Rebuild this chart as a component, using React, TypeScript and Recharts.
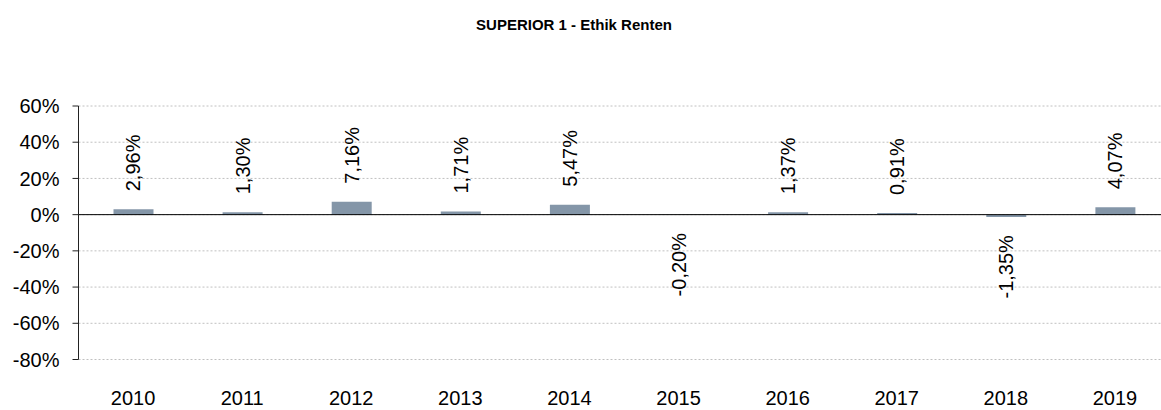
import React from 'react';
import {
  BarChart,
  Bar,
  XAxis,
  YAxis,
  CartesianGrid,
  ReferenceLine,
  LabelList,
} from 'recharts';

const years = ['2010', '2011', '2012', '2013', '2014', '2015', '2016', '2017', '2018', '2019'];
const returns = [2.96, 1.3, 7.16, 1.71, 5.47, -0.2, 1.37, 0.91, -1.35, 4.07];
const yTicks = [-80, -60, -40, -20, 0, 20, 40, 60];

const data = years.map((year, i) => ({ year, value: returns[i] }));

const FONT = 'Liberation Sans, Arial, sans-serif';

const formatPct = (v: number) => `${v}%`;

const RotatedLabel = (props: any) => {
  const { x, y, width, height, value } = props;
  const cx = Number(x) + Number(width) / 2;
  const top = Math.min(Number(y), Number(y) + Number(height));
  const bottom = Math.max(Number(y), Number(y) + Number(height));
  const text = `${Number(value).toFixed(2).replace('.', ',')}%`;
  const positive = Number(value) >= 0;
  const ay = positive ? top - 18 : bottom + 18;
  return (
    <text
      x={cx}
      y={ay}
      transform={`rotate(-90, ${cx}, ${ay})`}
      textAnchor={positive ? 'start' : 'end'}
      dominantBaseline="central"
      fontSize={20}
      fontFamily={FONT}
      fill="#000"
    >
      {text}
    </text>
  );
};

export default function App() {
  return (
    <div
      style={{
        position: 'absolute',
        left: 0,
        top: 0,
        width: 1161,
        height: 410,
        overflow: 'hidden',
        background: '#fff',
      }}
    >
      <div
        style={{
          position: 'absolute',
          left: 424,
          top: 16,
          width: 300,
          textAlign: 'center',
          fontFamily: FONT,
          fontWeight: 'bold',
          fontSize: 15,
          whiteSpace: 'nowrap',
        }}
      >
        SUPERIOR 1 - Ethik Renten
      </div>
      <BarChart
        width={1175}
        height={410}
        data={data}
        margin={{ top: 106, right: 5.5, left: 0, bottom: 0 }}
      >
        <CartesianGrid
          vertical={false}
          stroke="#c0c0c0"
          strokeDasharray="2 2"
        />
        <XAxis
          dataKey="year"
          height={50.5}
          axisLine={false}
          tickLine={false}
          tickSize={0}
          tickMargin={31}
          tick={{ fontSize: 20, fontFamily: FONT, fill: '#000' }}
          interval={0}
        />
        <YAxis
          width={78.5}
          domain={[-80, 60]}
          ticks={yTicks}
          tickFormatter={formatPct}
          axisLine={{ stroke: '#222' }}
          tickLine={{ stroke: '#222' }}
          tickSize={6}
          tickMargin={13}
          tick={{ fontSize: 20, fontFamily: FONT, fill: '#000' }}
          allowDataOverflow
        />
        <ReferenceLine y={0} stroke="#000" strokeWidth={1} />
        <Bar dataKey="value" fill="#8496a8" barSize={40} isAnimationActive={false}>
          <LabelList dataKey="value" content={RotatedLabel} />
        </Bar>
      </BarChart>
    </div>
  );
}
